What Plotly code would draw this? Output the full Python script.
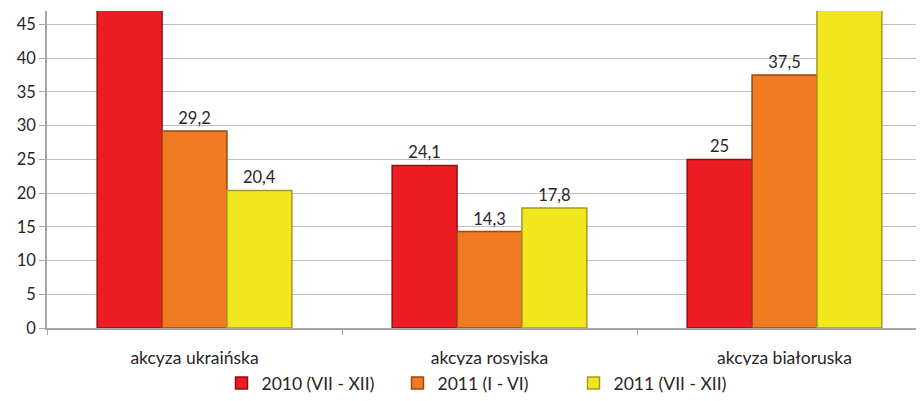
import plotly.graph_objects as go

categories = ["akcyza ukraińska", "akcyza rosyjska", "akcyza białoruska"]
series_names = ["2010 (VII - XII)", "2011 (I - VI)", "2011 (VII - XII)"]
s2010_h2 = [49.0, 24.1, 25.0]
s2011_h1 = [29.2, 14.3, 37.5]
s2011_h2 = [20.4, 17.8, 50.0]
y_ticks = [0, 5, 10, 15, 20, 25, 30, 35, 40, 45]

Y_MAX = 47.0
fills = ["#ED1C24", "#F07A22", "#F2E61C"]
edges = ["#8E1015", "#9A4A12", "#A39A22"]

def fmt(v):
    return f"{v:g}".replace(".", ",") if v <= Y_MAX else ""

fig = go.Figure()
for name, vals, fc, ec in zip(series_names, [s2010_h2, s2011_h1, s2011_h2], fills, edges):
    fig.add_trace(go.Bar(
        x=categories, y=vals, name=name,
        marker=dict(color=fc, line=dict(color=ec, width=1.5)),
        text=[fmt(v) for v in vals], textposition="outside",
        textfont=dict(family="Lato, Open Sans, sans-serif", size=16.5, color="#262626"),
        cliponaxis=True,
    ))

# page body has an 8px margin, so the figure is 916x393 placed at (8, 8)
fig.update_layout(
    width=916, height=393,
    margin=dict(l=39, r=0, t=3, b=73, autoexpand=False),
    paper_bgcolor="white", plot_bgcolor="white",
    barmode="group", bargap=0.34, bargroupgap=0,
    font=dict(family="Lato, Open Sans, sans-serif", size=16, color="#262626"),
    showlegend=True,
    legend=dict(orientation="h", x=0.5, xanchor="center",
                yref="container", y=1 - 375 / 393, yanchor="middle",
                font=dict(size=17.5, color="#262626"), entrywidth=131,
                itemwidth=30, traceorder="normal"),
)
fig.update_xaxes(
    range=[-0.5, -0.5 + 877 / 295], automargin=False,
    showline=True, linecolor="#A6A6A6", linewidth=1.5,
    ticks="outside", ticklen=5, tickcolor="#A6A6A6", tickson="boundaries",
    ticklabelstandoff=13,
    tickfont=dict(size=17.5, color="#262626"),
    showgrid=False,
)
fig.update_yaxes(
    range=[0, Y_MAX], tickvals=y_ticks, automargin=False,
    showline=True, linecolor="#A6A6A6", linewidth=1.5,
    ticks="outside", ticklen=6, tickcolor="#A6A6A6",
    showgrid=True, gridcolor="#BFBFBF", gridwidth=1.2,
    tickfont=dict(size=16.5, color="#262626"),
    zeroline=False,
)

fig.write_html("out.html")
